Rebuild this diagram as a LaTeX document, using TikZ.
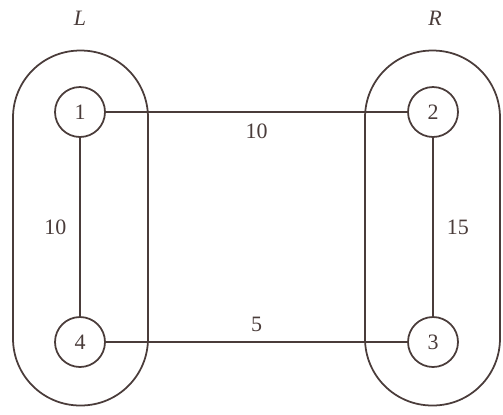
\documentclass[tikz,border=0pt]{standalone}
\usepackage{fontspec}
\setmainfont{Liberation Serif}
\usepackage{tikz}

\definecolor{ink}{HTML}{4A3C3A}

\begin{document}
\begin{tikzpicture}[x=0.02cm, y=-0.02cm, ink, line width=1pt, font=\fontsize{12.5}{15}\selectfont] % pixel-like units, y downwards
  \useasboundingbox (0,0) rectangle (503,414);
  \tikzset{vert/.style={shape=circle, draw=ink, fill=white, minimum size=1cm, inner sep=0pt},
           group/.style={draw=ink, rounded corners=1.34cm, minimum width=2.7cm, minimum height=7.1cm}}
  \node[group] (Lgrp) at (80.5,228) {};
  \node[group] (Rgrp) at (432.5,228) {};
  \node (Llab) at (80,18) {\itshape L};
  \node (Rlab) at (435,18) {\itshape R};

  \node[vert] (1) at (80,112) {1};
  \node[vert] (2) at (433,112) {2};
  \node[vert] (3) at (433,342) {3};
  \node[vert] (4) at (80,342) {4};

  \path [draw=ink] (1) edge node[pos=0.5, below=3pt] {10} (2);
  \path [draw=ink] (1) edge node[midway, left=4pt] {10} (4);
  \path [draw=ink] (2) edge node[midway, right=4pt] {15} (3);
  \path [draw=ink] (4) edge node[midway, above=2pt] {5} (3);
\end{tikzpicture}
\end{document}
